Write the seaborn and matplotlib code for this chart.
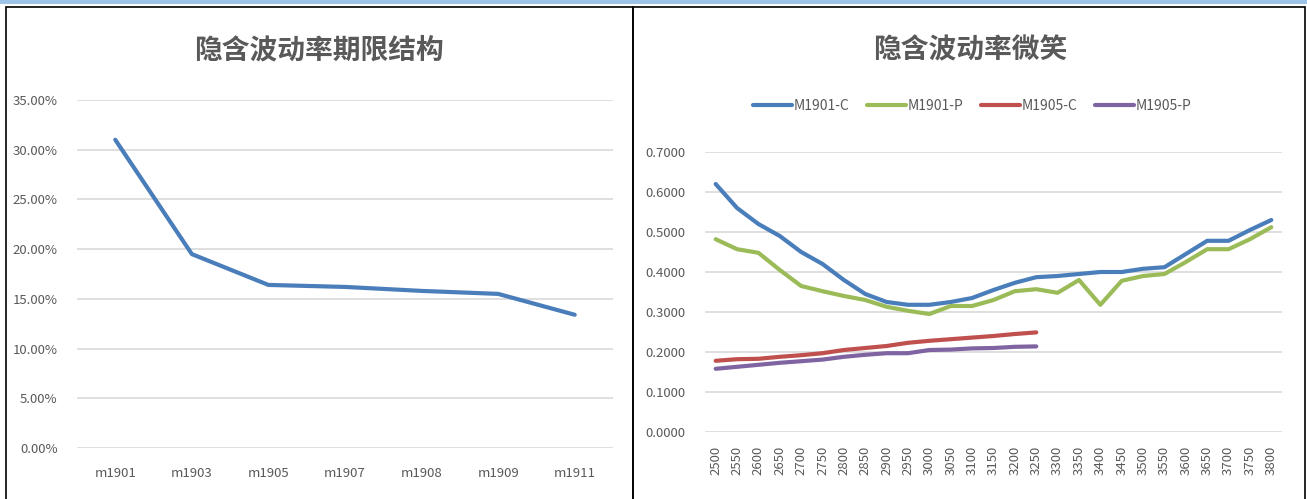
import numpy as np
import pandas as pd
import seaborn as sb
import matplotlib.pyplot as plt
from matplotlib.patches import Rectangle
from matplotlib.ticker import FuncFormatter

# term structure
months = ["m1901", "m1903", "m1905", "m1907", "m1908", "m1909", "m1911"]
term_iv = [0.310, 0.195, 0.164, 0.162, 0.158, 0.155, 0.134]

# smile
strikes = list(range(2500, 3801, 50))
m1901_c = [0.620, 0.560, 0.520, 0.490, 0.450, 0.420, 0.380, 0.345, 0.325, 0.318,
           0.318, 0.325, 0.335, 0.355, 0.373, 0.387, 0.390, 0.395, 0.400, 0.400,
           0.408, 0.412, 0.445, 0.478, 0.478, 0.505, 0.530]
m1901_p = [0.482, 0.457, 0.448, 0.405, 0.365, 0.352, 0.340, 0.330, 0.313, 0.303,
           0.295, 0.315, 0.315, 0.330, 0.352, 0.357, 0.348, 0.380, 0.318, 0.378,
           0.390, 0.395, 0.425, 0.457, 0.457, 0.482, 0.512]
m1905_c = [0.178, 0.182, 0.183, 0.188, 0.192, 0.197, 0.205, 0.210, 0.215, 0.223,
           0.228, 0.232, 0.236, 0.240, 0.245, 0.249]
m1905_p = [0.158, 0.163, 0.168, 0.173, 0.177, 0.181, 0.188, 0.193, 0.197, 0.197,
           0.205, 0.206, 0.209, 0.210, 0.213, 0.214]
series_names = ["M1901-C", "M1901-P", "M1905-C", "M1905-P"]
colors = ["#4A7EBB", "#9BBB59", "#C0504D", "#8064A2"]

sb.set_style("white")
plt.rcParams['font.family'] = ['Noto Sans CJK SC', 'DejaVu Sans']

W, H = 1307, 499
fig = plt.figure(figsize=(W / 100, H / 100), dpi=100)

def box(x0, y0, x1, y1):
    return [x0 / W, 1 - y1 / H, (x1 - x0) / W, (y1 - y0) / H]

# panel borders
fig.patches.append(Rectangle((0, 0.992), 1, 0.008, transform=fig.transFigure,
                             facecolor="#9DC3E6", edgecolor="none"))
for x0, x1 in [(6, 633), (633, 1305)]:
    fig.patches.append(Rectangle((x0 / W, -0.01), (x1 - x0) / W, 1 - 7 / H + 0.01,
                                 transform=fig.transFigure, facecolor="none",
                                 edgecolor="black", linewidth=1.2))

txt = "#595959"

# left chart
ax1 = fig.add_axes(box(77, 100, 613, 448))
df1 = pd.DataFrame({"month": np.arange(len(months)), "iv": term_iv})
sb.lineplot(data=df1, x="month", y="iv", ax=ax1, color="#4A7EBB", linewidth=3)
ax1.set_xlim(-0.5, len(months) - 0.5)
ax1.set_ylim(0, 0.35)
ax1.set_yticks(np.arange(0, 0.351, 0.05))
ax1.yaxis.set_major_formatter(FuncFormatter(lambda v, p: f"{v * 100:.2f}%"))
ax1.set_xticks(range(len(months)))
ax1.set_xticklabels(months)
ax1.set_xlabel("")
ax1.set_ylabel("")
ax1.grid(axis="y", color="#D9D9D9", linewidth=1.2)
for s in ax1.spines.values():
    s.set_visible(False)
ax1.tick_params(axis="both", length=0, labelsize=9.5, colors=txt)
ax1.tick_params(axis="x", pad=14)
ax1.tick_params(axis="y", pad=14)
fig.text(319 / W, 1 - 50 / H, "隐含波动率期限结构", ha="center", va="center",
         fontsize=20, fontweight="bold", color=txt)

# right chart
ax2 = fig.add_axes(box(705, 152, 1282, 432))
frames = []
for name, vals in zip(series_names, [m1901_c, m1901_p, m1905_c, m1905_p]):
    frames.append(pd.DataFrame({"strike": strikes[:len(vals)], "iv": vals, "series": name}))
df2 = pd.concat(frames, ignore_index=True)
sb.lineplot(data=df2, x="strike", y="iv", hue="series", hue_order=series_names,
            palette=colors, ax=ax2, linewidth=3, legend=False)
ax2.set_xlim(2475, 3825)
ax2.set_ylim(0, 0.7)
ax2.set_yticks(np.arange(0, 0.701, 0.1))
ax2.yaxis.set_major_formatter(FuncFormatter(lambda v, p: f"{v:.4f}"))
ax2.set_xticks(strikes)
ax2.set_xticklabels([str(s) for s in strikes], rotation=90)
ax2.set_xlabel("")
ax2.set_ylabel("")
ax2.grid(axis="y", color="#D9D9D9", linewidth=1.2)
for s in ax2.spines.values():
    s.set_visible(False)
ax2.tick_params(axis="both", length=0, labelsize=9.5, colors=txt)
ax2.tick_params(axis="x", pad=10)
ax2.tick_params(axis="y", pad=14)
fig.text(970 / W, 1 - 50 / H, "隐含波动率微笑", ha="center", va="center",
         fontsize=20, fontweight="bold", color=txt)

handles = [plt.Line2D([], [], color=c, linewidth=3) for c in colors]
fig.legend(handles, series_names, loc="center", bbox_to_anchor=(972 / W, 1 - 106 / H),
           ncol=4, frameon=False, fontsize=10, handlelength=2.8, handletextpad=0.1,
           columnspacing=1.3, labelcolor=txt)

fig.savefig("out.png", dpi=100)
